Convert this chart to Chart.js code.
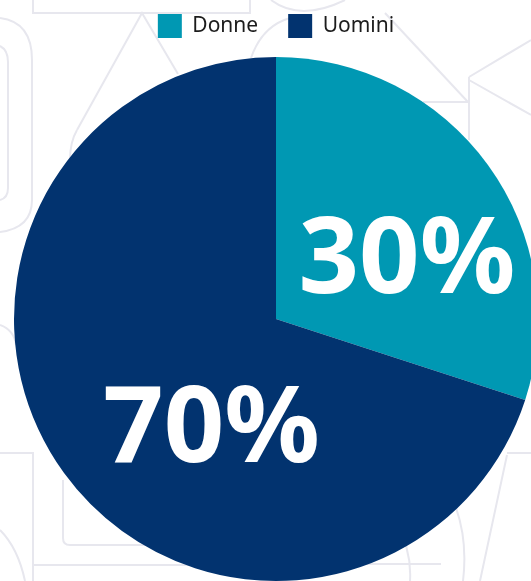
<!DOCTYPE html>
<html lang="it">
<head>
<meta charset="utf-8">
<title>Donne / Uomini</title>
<script src="https://cdn.jsdelivr.net/npm/chart.js@4/dist/chart.umd.min.js"></script>
<style>
  html, body { margin: 0; padding: 0; background: #fff; }
  body { width: 531px; height: 581px; overflow: hidden; position: relative; }
  #bg { position: absolute; left: 0; top: 0; }
  #wrap { position: absolute; left: 0; top: -16px; width: 552px; height: 606px; }
</style>
</head>
<body>
<svg id="bg" width="531" height="581" fill="none" stroke="#e7e7ee" stroke-width="2">
  <path d="M33 0 V13 H250 V0"/>
  <path d="M0 18 Q32 22 32 60 V200 Q32 228 0 232"/>
  <path d="M0 46 Q8 50 8 62 V188 Q8 198 0 200"/>
  <path d="M77 130 L142 13 L178 74"/>
  <path d="M77 130 Q70 142 70 160 V205"/>
  <path d="M271 0 Q300 22 345 0"/>
  <path d="M251 58 Q262 26 290 18"/>
  <path d="M385 13 L468 102 H423"/>
  <path d="M469 77 V140 M469 77 L531 40 M469 80 L531 115"/>
  <path d="M0 325 Q14 330 16 345"/>
  <path d="M0 453 H33 V581"/>
  <path d="M63 480 V538 Q63 545 70 545 H200"/>
  <path d="M33 565 H200"/>
  <path d="M0 530 Q18 548 25 581"/>
  <path d="M357 564 H441"/>
  <path d="M395 520 Q412 550 410 581"/>
  <path d="M507 455 L480 581 M507 453 H531"/>
  <path d="M455 505 Q468 540 463 581"/>
</svg>
<div id="wrap"><canvas id="pie"></canvas></div>
<script>
const categories = ['Donne', 'Uomini'];
const shares = [30, 70];
const sliceColors = ['#0098b3', '#02336f'];

// where each percentage sits: degrees clockwise from 12 o'clock, share of radius
const labelSpots = [
  { angle: 64, dist: 0.556 },
  { angle: 211.6, dist: 0.47 }
];

const percentLabels = {
  id: 'percentLabels',
  afterDatasetsDraw(chart) {
    const ctx = chart.ctx;
    const size = 106;
    ctx.save();
    ctx.font = `bold ${size}px "Noto Sans", sans-serif`;
    ctx.fillStyle = '#ffffff';
    ctx.textAlign = 'center';
    ctx.textBaseline = 'alphabetic';
    chart.getDatasetMeta(0).data.forEach((arc, i) => {
      const spot = labelSpots[i];
      const a = (spot.angle - 90) * Math.PI / 180;
      const x = arc.x + Math.cos(a) * spot.dist * arc.outerRadius;
      const y = arc.y + Math.sin(a) * spot.dist * arc.outerRadius;
      ctx.fillText(shares[i] + '%', x, y + size * 0.357);
    });
    ctx.restore();
  }
};

new Chart(document.getElementById('pie'), {
  type: 'pie',
  data: {
    labels: categories,
    datasets: [{
      data: shares,
      backgroundColor: sliceColors,
      borderWidth: 0,
      radius: 262
    }]
  },
  options: {
    responsive: true,
    maintainAspectRatio: false,
    animation: false,
    layout: { padding: 0 },
    plugins: {
      legend: {
        position: 'top',
        labels: {
          boxWidth: 24,
          boxHeight: 24,
          padding: 30,
          color: '#1c1c1c',
          font: { family: '"Noto Sans", sans-serif', size: 21 }
        }
      },
      tooltip: { enabled: false }
    }
  },
  plugins: [percentLabels]
});
</script>
</body>
</html>
